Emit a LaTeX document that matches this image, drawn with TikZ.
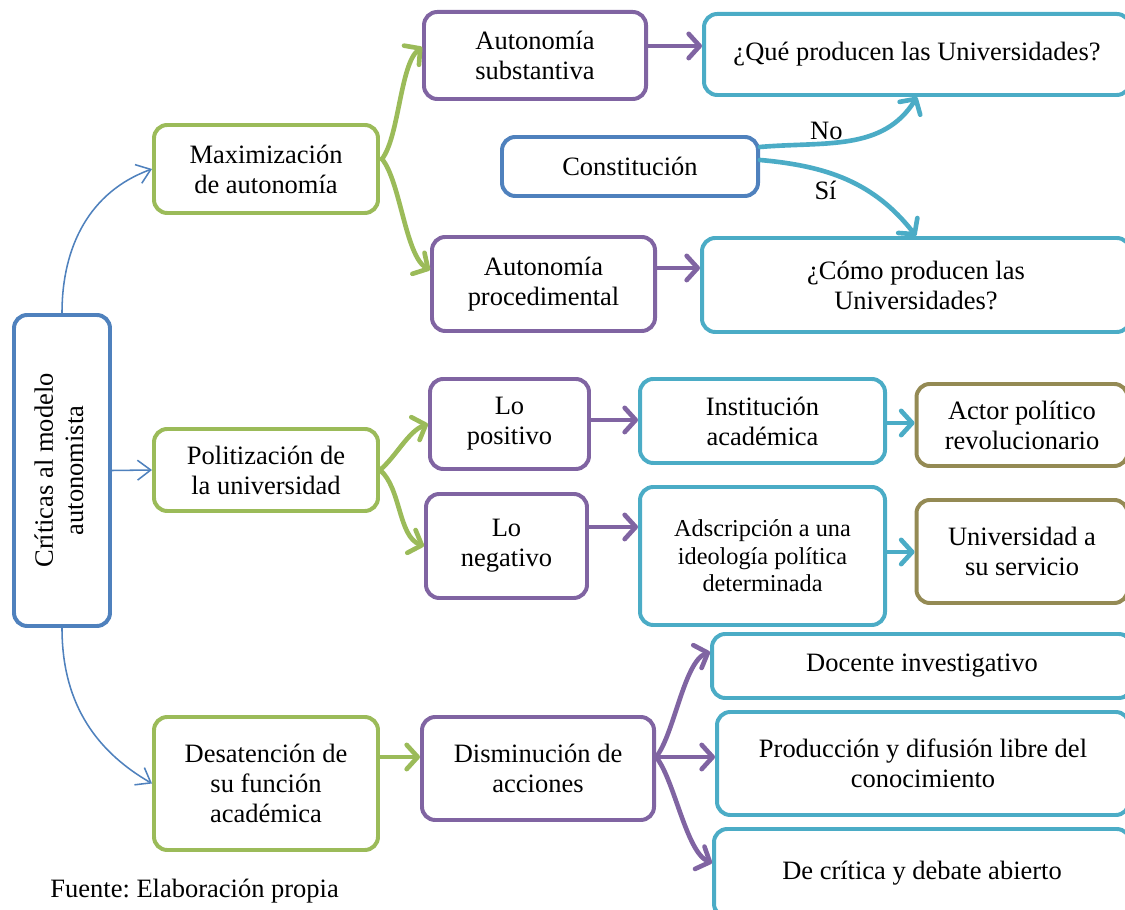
\documentclass[tikz,border=0pt]{standalone}
\usepackage{fontspec}
\setmainfont{Liberation Serif}
\usepackage{xcolor}
\usepackage{tikz}
\usetikzlibrary{arrows.meta,calc}
\frenchspacing

\definecolor{azul}{HTML}{4F81BD}
\definecolor{verde}{HTML}{9BBB59}
\definecolor{morado}{HTML}{8064A2}
\definecolor{celeste}{HTML}{4BACC6}
\definecolor{oliva}{HTML}{948A54}

\begin{document}
\begin{tikzpicture}[x=0.453pt,y=0.453pt,>={Straight Barb[length=5pt,width=11pt,round]},
  every node/.style={font=\fontsize{12}{13.6}\selectfont},
  caja/.style={draw,rounded corners=6pt,line width=1.8pt,align=center,inner sep=1pt},
  tam/.style 2 args={minimum width={(#1-4)*0.453pt},minimum height={(#2-4)*0.453pt}},
  fina/.style={draw=azul,line width=0.7pt,-{Straight Barb[length=6pt,width=9pt]}},
  gruesa/.style={line width=2.1pt,line cap=round,->},
  etiq/.style={text=black}]
  \useasboundingbox (0,0) rectangle (1125,909);

  % columna izquierda
  \node[caja,draw=azul,tam={100}{315}] (crit) at (62,438.5)
    {\rotatebox{90}{\begin{tabular}{@{}c@{}}Críticas al modelo\\autonomista\end{tabular}}};
  \node[caja,draw=verde,tam={228}{92}] (maxi) at (266,740) {Maximización\\de autonomía};
  \node[caja,draw=verde,tam={228}{86}] (poli) at (266,439) {Politización de\\la universidad};
  \node[caja,draw=verde,tam={228}{137}] (desa) at (266,125.5) {Desatención de\\su función\\académica};

  % autonomia
  \node[caja,draw=morado,tam={226}{91}] (asub) at (535,853.5) {Autonomía\\substantiva};
  \node[caja,draw=morado,tam={227}{98}] (aproc) at (543.5,625) {Autonomía\\procedimental};
  \node[caja,draw=azul,tam={260}{63}] (const) at (630,742.5) {Constitución};
  \node[caja,draw=celeste,tam={430}{85}] (que) at (917,854.5) {¿Qué producen las Universidades?};
  \node[caja,draw=celeste,tam={432}{98}] (como) at (916,624) {¿Cómo producen las\\Universidades?};

  % politizacion
  \node[caja,draw=morado,tam={163}{94}] (lpos) at (509.5,485) {Lo\\positivo};
  \node[caja,draw=morado,tam={165}{108}] (lneg) at (506.5,363) {Lo\\negativo};
  \node[caja,draw=celeste,tam={249}{88}] (inst) at (762.5,488) {Institución\\académica};
  \node[caja,draw=celeste,tam={249}{142},font=\fontsize{11}{12.4}\selectfont] (adsc) at (762.5,353)
    {Adscripción a una\\ideología política\\determinada};
  \node[caja,draw=oliva,tam={215}{86}] (actor) at (1022,484) {Actor político\\revolucionario};
  \node[caja,draw=oliva,tam={215}{107}] (univ) at (1022,357.5) {Universidad a\\su servicio};

  % desatencion
  \node[caja,draw=morado,tam={236}{107}] (dism) at (538,140.5) {Disminución de\\acciones};
  \node[caja,draw=celeste,tam={424}{68}] (doc) at (922,243) {Docente investigativo};
  \node[caja,draw=celeste,tam={416}{107}] (prod) at (923,145.5) {Producción y difusión libre del\\conocimiento};
  \node[caja,draw=celeste,tam={420}{92}] (dcri) at (922,36) {De crítica y debate abierto};

  \node[anchor=base west,inner sep=0pt] (fuente) at (50,12) {Fuente: Elaboración propia};

  \coordinate (msal) at ($(maxi.east)+(2,10)$);
  \coordinate (dsal) at ($(dism.east)+(0,11.5)$);

  \draw[fina] (crit.north) to[out=90,in=200] (maxi.west);
  \draw[fina] (crit.east) -- (poli.west);
  \draw[fina] (crit.south) to[out=270,in=150] (desa.west);

  \draw[gruesa,verde] (msal) to[out=52,in=218,looseness=0.6] ($(asub.west)+(0,8.5)$);
  \draw[gruesa,verde] (msal) to[out=-50,in=150,looseness=0.6] ($(aproc.west)+(0,14)$);
  \draw[gruesa,morado] ($(asub.east)+(0,9.5)$) -- ($(asub.east -| que.west)+(0,9.5)$);
  \draw[gruesa,morado] ($(aproc.east)+(0,16)$) -- ($(aproc.east -| como.west)+(0,16)$);
  \draw[gruesa,celeste] ($(const.east)+(0,19.5)$) to[out=5,in=238]
    node[etiq,above,pos=0.36,inner sep=0.5pt] {No} (que.south);
  \draw[gruesa,celeste] ($(const.east)+(0,6.5)$) to[out=-5,in=128]
    node[etiq,below,pos=0.36] {Sí} (como.north);

  \draw[gruesa,verde] (poli.east) to[out=40,in=200,looseness=0.8] (lpos.west);
  \draw[gruesa,verde] (poli.east) to[out=-40,in=160,looseness=0.8] (lneg.west);
  \draw[gruesa,morado] ($(lpos.east)+(0,4)$) -- ($(lpos.east -| inst.west)+(0,4)$);
  \draw[gruesa,morado] ($(lneg.east)+(0,19)$) -- ($(lneg.east -| adsc.west)+(0,19)$);
  \draw[gruesa,celeste] ($(inst.east)+(0,-2)$) -- ($(inst.east -| actor.west)+(0,-2)$);
  \draw[gruesa,celeste] ($(adsc.east)+(0,4)$) -- ($(adsc.east -| univ.west)+(0,4)$);

  \draw[gruesa,verde] ($(desa.east)+(0,26.5)$) -- ($(desa.east -| dism.west)+(0,26.5)$);
  \draw[gruesa,morado] (dsal) to[out=50,in=200,looseness=0.6] ($(doc.west)+(0,14)$);
  \draw[gruesa,morado] (dsal) -- (dsal -| prod.west);
  \draw[gruesa,morado] (dsal) to[out=-50,in=157,looseness=0.6] ($(dcri.west)+(0,10)$);
\end{tikzpicture}
\end{document}
